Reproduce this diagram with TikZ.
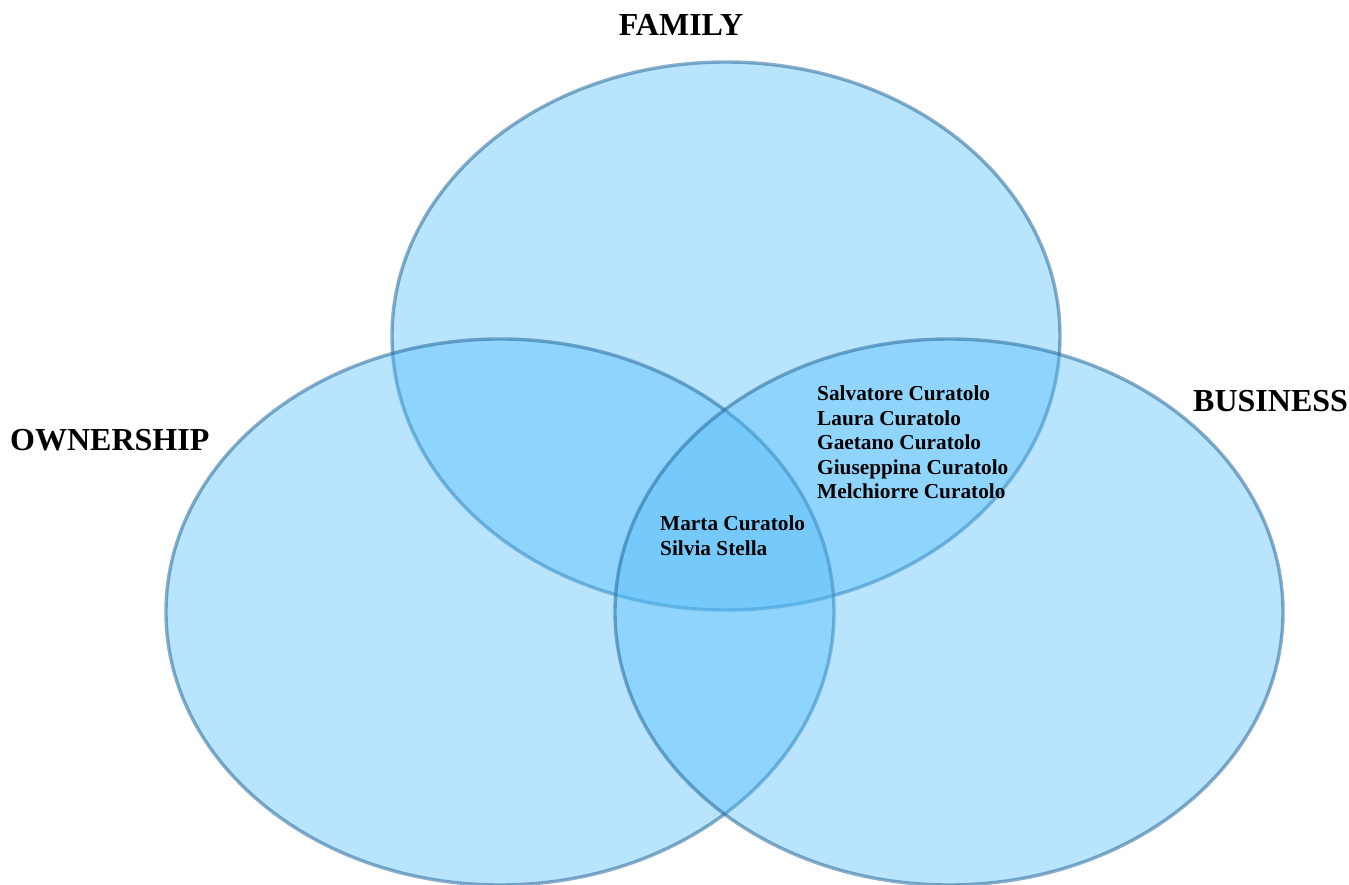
\documentclass[tikz,border=0pt]{standalone}
\usepackage{fontspec}
\setmainfont{Liberation Serif}
\definecolor{vfill}{RGB}{80,188,250}
\definecolor{vline}{RGB}{40,105,155}
\tikzset{
  venn/.style={fill=vfill, fill opacity=0.4, draw=vline, draw opacity=0.55, line width=3.4pt},
  title/.style={font=\bfseries\fontsize{32}{36}\selectfont, inner sep=0pt},
  names/.style={font=\bfseries\fontsize{21.3}{24.6}\selectfont, align=left, inner sep=0pt, anchor=base west}
}
\begin{document}
\begin{tikzpicture}[x=1pt,y=-1pt]
\useasboundingbox (0,0) rectangle (1349,885);
\path[venn] (726,336) ellipse [x radius=334, y radius=274];
\path[venn] (500,612) ellipse [x radius=334, y radius=273];
\path[venn] (949,612) ellipse [x radius=334, y radius=273];
\node[title, anchor=base] (family) at (681,36) {FAMILY};
\node[title, anchor=base west] (ownership) at (10,450) {OWNERSHIP};
\node[title, anchor=base west] (business) at (1193,411) {BUSINESS};
\node[names] (fb) at (817,498.9) {Salvatore Curatolo\\Laura Curatolo\\Gaetano Curatolo\\Giuseppina Curatolo\\Melchiorre Curatolo};
\node[names] (all) at (660,555) {Marta Curatolo\\Silvia Stella};
\end{tikzpicture}
\end{document}
